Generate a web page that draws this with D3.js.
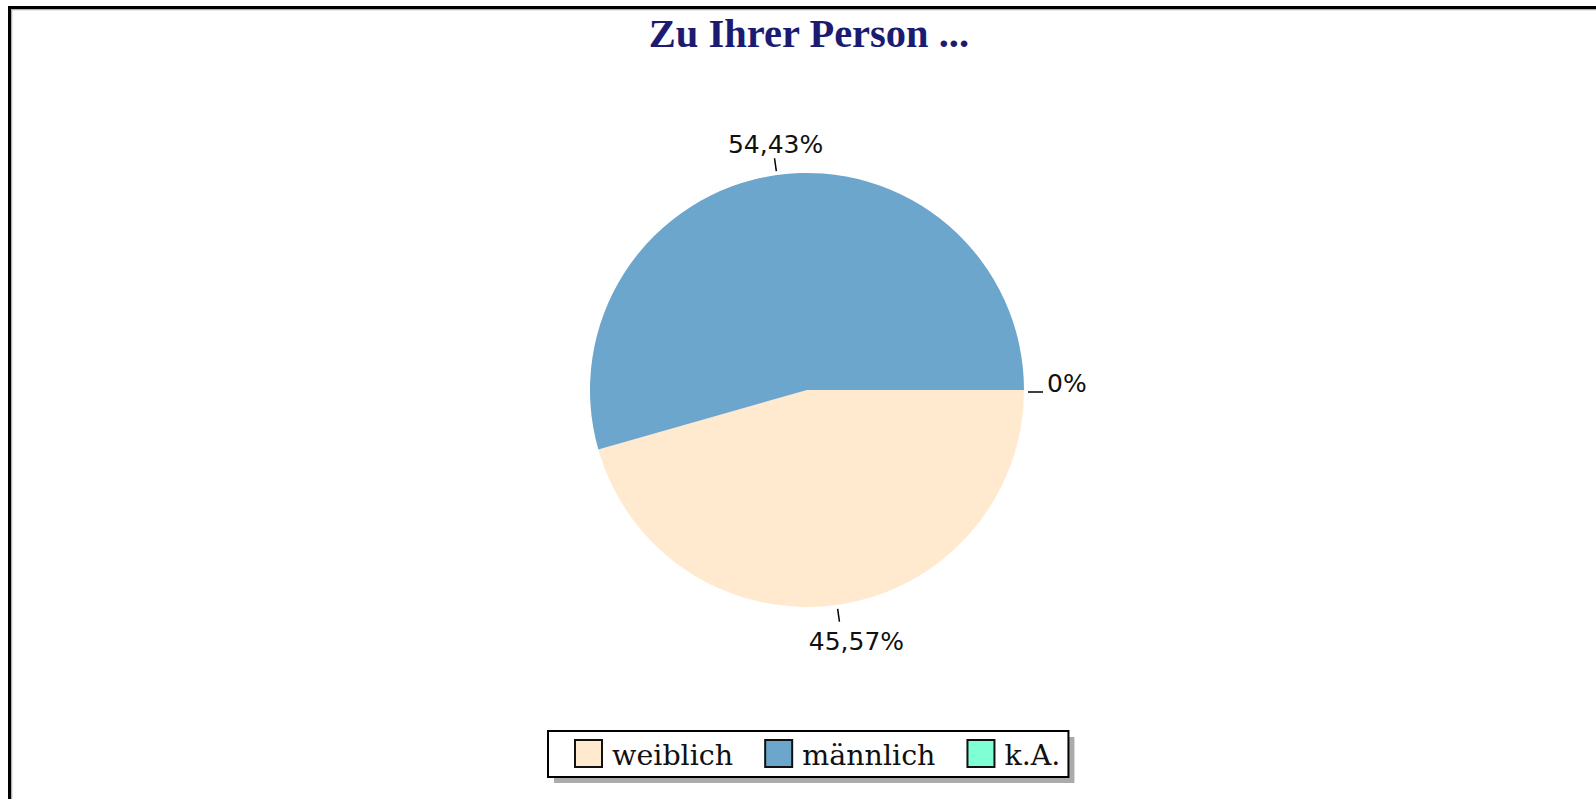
<!DOCTYPE html>
<html>
<head>
<meta charset="utf-8">
<script src="https://cdn.jsdelivr.net/npm/d3@7"></script>
<style>
  body { margin: 0; background: #fff; }
  svg { display: block; }
</style>
</head>
<body>
<script>
// chart data
var categories = ["weiblich", "männlich", "k.A."];
var shares = [45.57, 54.43, 0];
var labels = ["45,57%", "54,43%", "0%"];
var colors = ["#ffe9cf", "#6ca6cd", "#7fffd4"];
var title = "Zu Ihrer Person ...";

var width = 1596;
var height = 799;
var cx = 807;
var cy = 390;
var radius = 217;

var svg = d3.select("body")
  .append("svg")
  .attr("width", width)
  .attr("height", height);

// outer frame (only top and left edges show)
svg.append("path")
  .attr("d", "M11.5," + height + "V9.5H" + width)
  .attr("fill", "none")
  .attr("stroke", "#b0b0b0")
  .attr("stroke-width", 1.5);
svg.append("path")
  .attr("d", "M9.5," + height + "V7.5H" + width)
  .attr("fill", "none")
  .attr("stroke", "#000")
  .attr("stroke-width", 3);

svg.append("text")
  .attr("x", 809)
  .attr("y", 47)
  .attr("text-anchor", "middle")
  .attr("font-family", "Liberation Serif, serif")
  .attr("font-weight", "bold")
  .attr("font-size", 40.5)
  .attr("fill", "#1b1b72")
  .text(title);

var pie = d3.pie()
  .sort(null)
  .startAngle(Math.PI / 2)
  .endAngle(Math.PI / 2 + 2 * Math.PI)
  .value(d => d);

var arcs = pie(shares);

var arc = d3.arc().innerRadius(0).outerRadius(radius);

var g = svg.append("g")
  .attr("transform", "translate(" + cx + "," + cy + ")");

g.selectAll("path.slice")
  .data(arcs)
  .enter()
  .append("path")
  .attr("class", "slice")
  .attr("d", arc)
  .attr("fill", (d, i) => colors[i]);

// leader ticks + labels
arcs.forEach(function(d, i) {
  var a = (d.startAngle + d.endAngle) / 2;
  var s = Math.sin(a), c = Math.cos(a);
  var r1 = radius + 4, r2 = radius + 17;
  var x1 = r1 * s, y1 = -r1 * c;
  var x2 = r2 * s, y2 = -r2 * c;

  var tx, ty, anchor;
  if (c > 0.7) {
    tx = x2 + 1; ty = y2 - 5; anchor = "middle";
  } else if (c < -0.7) {
    tx = x2 + 17; ty = y2 + 28; anchor = "middle";
  } else {
    // side labels: horizontal tick at baseline
    x1 = (radius + 4) * (s > 0 ? 1 : -1);
    x2 = (radius + 19) * (s > 0 ? 1 : -1);
    y1 = y2 = y2 + 2;
    tx = x2 + (s > 0 ? 4 : -4); ty = y2; anchor = s > 0 ? "start" : "end";
  }

  g.append("line")
    .attr("x1", x1).attr("y1", y1)
    .attr("x2", x2).attr("y2", y2)
    .attr("stroke", "#000")
    .attr("stroke-width", 1.5);

  g.append("text")
    .attr("x", tx)
    .attr("y", ty)
    .attr("text-anchor", anchor)
    .attr("font-family", "DejaVu Sans, sans-serif")
    .attr("font-size", 25)
    .attr("fill", "#111")
    .text(labels[i]);
});

// legend
var legend = svg.append("g");
var legTop = 731, legH = 46, legLeft = 548;
var sw = 27;
var shadow = legend.append("rect").attr("fill", "#ababab");
var box = legend.append("rect")
  .attr("fill", "#fff")
  .attr("stroke", "#000")
  .attr("stroke-width", 2);

var x = 575;
categories.forEach(function(name, i) {
  legend.append("rect")
    .attr("x", x)
    .attr("y", 740)
    .attr("width", sw)
    .attr("height", sw)
    .attr("fill", colors[i])
    .attr("stroke", "#111")
    .attr("stroke-width", 2);
  var t = legend.append("text")
    .attr("x", x + sw + 10)
    .attr("y", 765)
    .attr("font-family", "DejaVu Serif, serif")
    .attr("font-size", 28.5)
    .attr("fill", "#111")
    .text(name);
  x = x + sw + 10 + t.node().getComputedTextLength();
  if (i < categories.length - 1) x += 32;
});
var legRight = x + 8;

box.attr("x", legLeft).attr("y", legTop)
  .attr("width", legRight - legLeft).attr("height", legH);
shadow.attr("x", legLeft + 6).attr("y", legTop + 6)
  .attr("width", legRight - legLeft).attr("height", legH);
</script>
</body>
</html>
